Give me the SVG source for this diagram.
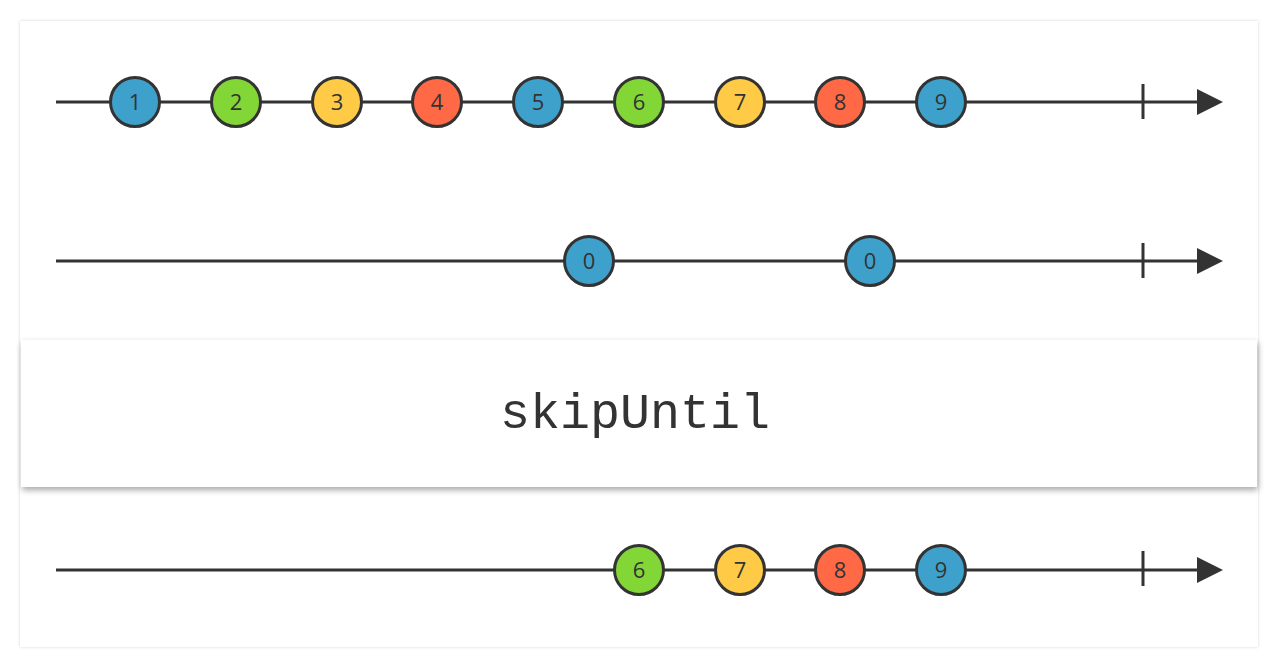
<svg xmlns="http://www.w3.org/2000/svg" width="1280" height="667" viewBox="0 0 1280 667">
<defs>
<style>
.line{stroke:#333;stroke-width:3;fill:none}
.tick{stroke:#333;stroke-width:3}
.head{fill:#333}
.m circle{stroke:#333;stroke-width:3}
.m text{font-family:"Open Sans","DejaVu Sans",sans-serif;font-size:22px;fill:#333;text-anchor:middle;dominant-baseline:central}
.blue{fill:#3ea1cb}.green{fill:#82d736}.yellow{fill:#ffcb46}.red{fill:#ff6946}
.op{font-family:"Liberation Mono","Courier New",monospace;font-size:50px;fill:#333;text-anchor:middle}
</style>
<filter id="cardsh" x="-5%" y="-5%" width="110%" height="110%">
<feGaussianBlur in="SourceAlpha" stdDeviation="1.5"/>
<feComponentTransfer><feFuncA type="linear" slope="0.18"/></feComponentTransfer>
<feMerge><feMergeNode/><feMergeNode in="SourceGraphic"/></feMerge>
</filter>
<filter id="opsh" x="-5%" y="-20%" width="110%" height="140%">
<feGaussianBlur in="SourceAlpha" stdDeviation="3"/>
<feOffset dx="1" dy="3"/>
<feComponentTransfer><feFuncA type="linear" slope="0.35"/></feComponentTransfer>
<feMerge><feMergeNode/><feMergeNode in="SourceGraphic"/></feMerge>
</filter>
</defs>
<rect width="1280" height="667" fill="#ffffff"/>
<rect id="card" x="20" y="21" width="1238" height="626" fill="#fff" filter="url(#cardsh)"/>

<g id="connectors">
<line class="line" x1="56" y1="102" x2="1200" y2="102"/>
<line class="tick" x1="1143" y1="84" x2="1143" y2="119"/>
<polygon class="head" points="1197,89 1223,102 1197,115"/>
<line class="line" x1="56" y1="261" x2="1200" y2="261"/>
<line class="tick" x1="1143" y1="243" x2="1143" y2="278"/>
<polygon class="head" points="1197,248 1223,261 1197,274"/>
<line class="line" x1="56" y1="570" x2="1200" y2="570"/>
<line class="tick" x1="1143" y1="551" x2="1143" y2="586"/>
<polygon class="head" points="1197,557 1223,570 1197,583"/>
</g>

<g id="source1">
<g id="s1-1" class="m"><circle class="blue" cx="135" cy="102" r="24.5"/><text x="135" y="101">1</text></g>
<g id="s1-2" class="m"><circle class="green" cx="236" cy="102" r="24.5"/><text x="236" y="101">2</text></g>
<g id="s1-3" class="m"><circle class="yellow" cx="337" cy="102" r="24.5"/><text x="337" y="101">3</text></g>
<g id="s1-4" class="m"><circle class="red" cx="437" cy="102" r="24.5"/><text x="437" y="101">4</text></g>
<g id="s1-5" class="m"><circle class="blue" cx="538" cy="102" r="24.5"/><text x="538" y="101">5</text></g>
<g id="s1-6" class="m"><circle class="green" cx="639" cy="102" r="24.5"/><text x="639" y="101">6</text></g>
<g id="s1-7" class="m"><circle class="yellow" cx="740" cy="102" r="24.5"/><text x="740" y="101">7</text></g>
<g id="s1-8" class="m"><circle class="red" cx="840" cy="102" r="24.5"/><text x="840" y="101">8</text></g>
<g id="s1-9" class="m"><circle class="blue" cx="941" cy="102" r="24.5"/><text x="941" y="101">9</text></g>
</g>

<g id="source2">
<g id="s2-0a" class="m"><circle class="blue" cx="589" cy="261" r="24.5"/><text x="589" y="260">0</text></g>
<g id="s2-0b" class="m"><circle class="blue" cx="870" cy="261" r="24.5"/><text x="870" y="260">0</text></g>
</g>

<g id="operator">
<rect x="21" y="340" width="1236" height="147" fill="#fff" filter="url(#opsh)"/>
<text class="op" x="635" y="428">skipUntil</text>
</g>

<g id="result">
<g id="r-6" class="m"><circle class="green" cx="639" cy="570" r="24.5"/><text x="639" y="569">6</text></g>
<g id="r-7" class="m"><circle class="yellow" cx="740" cy="570" r="24.5"/><text x="740" y="569">7</text></g>
<g id="r-8" class="m"><circle class="red" cx="840" cy="570" r="24.5"/><text x="840" y="569">8</text></g>
<g id="r-9" class="m"><circle class="blue" cx="941" cy="570" r="24.5"/><text x="941" y="569">9</text></g>
</g>
</svg>
